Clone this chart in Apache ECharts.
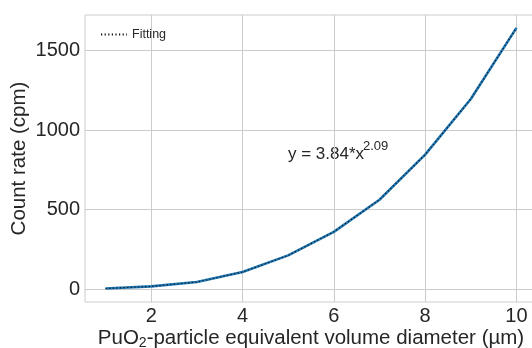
<!DOCTYPE html>
<html>
<head>
<meta charset="utf-8">
<script src="https://cdn.jsdelivr.net/npm/echarts@6/dist/echarts.min.js"></script>
<style>
  html, body { margin: 0; padding: 0; background: #fff; }
  #chart { width: 532px; height: 348px; }
</style>
</head>
<body>
<div id="chart"></div>
<script>
// particle diameter (µm) and count rate (cpm)
const diameters = [1, 2, 3, 4, 5, 6, 7, 8, 9, 10];
const measured = [4, 17, 45, 107, 212, 360, 562, 845, 1195, 1642];
const fitting = [4, 17, 45, 107, 212, 360, 562, 845, 1195, 1642];
const xTicks = [2, 4, 6, 8, 10];
const yTicks = [0, 500, 1000, 1500];

const FONT = 'Liberation Sans, Arial, sans-serif';
const TEXT = '#262626';
const GRID = '#cccccc';

const chart = echarts.init(document.getElementById('chart'));

const option = {
  animation: false,
  textStyle: { fontFamily: FONT },
  grid: {
    left: 85,
    top: 15,
    right: -5,
    bottom: 46,
    outerBoundsMode: 'none',
    containLabel: false,
    show: true,
    borderColor: GRID,
    borderWidth: 1
  },
  legend: {
    data: ['Fitting'],
    left: 95,
    top: 23,
    itemWidth: 26,
    itemHeight: 10,
    itemGap: 8,
    itemStyle: { opacity: 0 },
    textStyle: { fontSize: 12.5, color: TEXT, fontFamily: FONT }
  },
  xAxis: {
    type: 'value',
    min: 0.55,
    max: 10.45,
    name: '{a|PuO}{s|2}{a|-particle equivalent volume diameter (µm)}',
    nameLocation: 'middle',
    nameGap: 24,
    nameMoveOverlap: false,
    nameTextStyle: {
      rich: {
        a: { fontSize: 20.5, color: TEXT, fontFamily: FONT, lineHeight: 24 },
        s: { fontSize: 14, color: TEXT, fontFamily: FONT, lineHeight: 24, padding: [10, 0, 0, 0] }
      }
    },
    axisLine: { show: false },
    axisTick: { show: false, customValues: xTicks },
    axisLabel: { customValues: xTicks, fontSize: 20, color: TEXT, margin: 4, formatter: v => String(v) },
    splitLine: { show: true, lineStyle: { color: GRID, width: 1 } }
  },
  yAxis: {
    type: 'value',
    min: -81,
    max: 1723,
    name: 'Count rate (cpm)',
    nameLocation: 'middle',
    nameGap: 55,
    nameMoveOverlap: false,
    nameTextStyle: { fontSize: 20.5, color: TEXT, fontFamily: FONT },
    axisLine: { show: false },
    axisTick: { show: false, customValues: yTicks },
    axisLabel: { customValues: yTicks, fontSize: 20, color: TEXT, margin: 5, formatter: v => String(v) },
    splitLine: { show: true, lineStyle: { color: GRID, width: 1 } }
  },
  graphic: [
    {
      type: 'text',
      left: 288,
      top: 146,
      style: { text: 'y = 3.84*x', font: '17px ' + FONT, fill: TEXT }
    },
    {
      type: 'text',
      left: 363,
      top: 140,
      style: { text: '2.09', font: '13px ' + FONT, fill: TEXT }
    }
  ],
  series: [
    {
      name: 'Measured',
      type: 'line',
      data: diameters.map((d, i) => [d, measured[i]]),
      symbol: 'none',
      lineStyle: { color: '#1f77b4', width: 2.6 },
      z: 2
    },
    {
      name: 'Fitting',
      type: 'line',
      data: diameters.map((d, i) => [d, fitting[i]]),
      symbol: 'none',
      itemStyle: { color: '#111111' },
      lineStyle: { color: '#111111', width: 1.2, type: [1.2, 2.4] },
      z: 3
    }
  ]
};

chart.setOption(option);
</script>
</body>
</html>
